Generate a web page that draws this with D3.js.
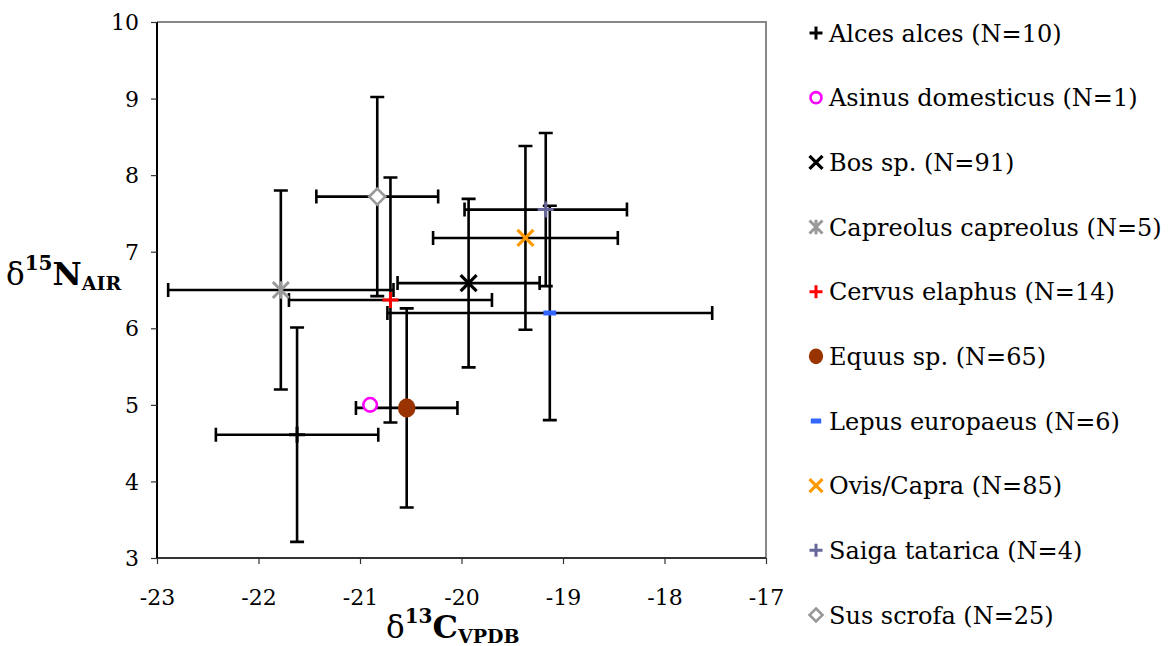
<!DOCTYPE html>
<html lang="en">
<head>
    <meta charset="utf-8">
    <title>d13C vs d15N by taxon</title>
    <script src="https://cdn.jsdelivr.net/npm/d3@7"></script>
    <style type="text/css">
      body{ margin:0; background:#fff; }
      text{ font-family: "DejaVu Serif", Georgia, serif; }
      .tick text{ font-size:22px; fill:#000; }
    </style>
</head>
<body>
<script type="text/javascript">
    // data
    var taxa   = ["Alces alces", "Asinus domesticus", "Bos sp.", "Capreolus capreolus", "Cervus elaphus",
                  "Equus sp.", "Lepus europaeus", "Ovis/Capra", "Saiga tatarica", "Sus scrofa"];
    var counts = [10, 1, 91, 5, 14, 65, 6, 85, 4, 25];
    var d13C   = [-21.62, -20.90, -19.93, -21.78, -20.70, -20.54, -19.13, -19.37, -19.17, -20.83];
    var d15N   = [4.61, 5.00, 6.59, 6.50, 6.37, 4.96, 6.20, 7.18, 7.55, 7.72];
    var errC   = [0.80, 0, 0.70, 1.11, 1.00, 0.50, 1.60, 0.91, 0.80, 0.60];
    var errN   = [1.40, 0, 1.10, 1.30, 1.60, 1.30, 1.40, 1.20, 1.00, 1.30];
    var shapes = ["plus", "circle", "x", "star", "plus", "dot", "dash", "x", "plus", "diamond"];
    var colors = ["#000000", "#ff00ff", "#000000", "#999999", "#ff0000",
                  "#993300", "#3366ff", "#ff9900", "#666699", "#999999"];
    var xTicks = [-23, -22, -21, -20, -19, -18, -17];
    var yTicks = [3, 4, 5, 6, 7, 8, 9, 10];

    var data = taxa.map(function(t, i){
        return {name:t, n:counts[i], x:d13C[i], y:d15N[i], ex:errC[i], ey:errN[i], shape:shapes[i], color:colors[i]};
    });

    var W = 1170, H = 646;
    var pL = 157, pR = 766, pT = 22, pB = 558;

    var svg = d3.select("body").append("svg").attr("width", W).attr("height", H);

    var x = d3.scaleLinear().domain([-23, -17]).range([pL, pR]);
    var y = d3.scaleLinear().domain([3, 10]).range([pB, pT]);

    // frame: top and right in grey
    svg.append("path")
        .attr("d", "M" + pL + "," + pT + "H" + pR + "V" + pB)
        .attr("fill", "none").attr("stroke", "#888").attr("stroke-width", 2);

    // axes (plain hyphen for negatives, like the original)
    var fmt = function(d){ return String(d); };
    var xA = d3.axisBottom(x).tickValues(xTicks).tickSize(6).tickPadding(28).tickFormat(fmt);
    var gx = svg.append("g").attr("transform", "translate(0," + pB + ")").call(xA);
    var yA = d3.axisLeft(y).tickValues(yTicks).tickSize(6).tickPadding(12).tickFormat(fmt);
    var gy = svg.append("g").attr("transform", "translate(" + pL + ",0)").call(yA);
    gx.select(".domain").attr("stroke", "#333").attr("stroke-width", 2).attr("d", "M" + pL + ",0H" + pR);
    gy.select(".domain").attr("stroke", "#000").attr("stroke-width", 2).attr("d", "M0," + y(3) + "V" + y(10));
    svg.selectAll(".tick line").attr("stroke", "#333").attr("stroke-width", 1.2);
    gx.selectAll(".tick text").style("font-size", "22px").attr("dy", "0.6em");
    gy.selectAll(".tick text").style("font-size", "22px").attr("dy", "0.35em");

    // error bars
    var cap = 7;
    var eb = svg.append("g").attr("stroke", "#000").attr("stroke-width", 2.6).attr("fill", "none");
    data.filter(function(d){ return d.ex > 0 || d.ey > 0; }).forEach(function(d){
        var cx = x(d.x), cy = y(d.y);
        var x0 = x(d.x - d.ex), x1 = x(d.x + d.ex);
        var y0 = y(d.y - d.ey), y1 = y(d.y + d.ey);
        eb.append("path").attr("d",
            "M" + x0 + "," + cy + "H" + x1 +
            "M" + x0 + "," + (cy - cap) + "V" + (cy + cap) +
            "M" + x1 + "," + (cy - cap) + "V" + (cy + cap) +
            "M" + cx + "," + y0 + "V" + y1 +
            "M" + (cx - cap) + "," + y0 + "H" + (cx + cap) +
            "M" + (cx - cap) + "," + y1 + "H" + (cx + cap));
    });

    // marker drawing
    function marker(g, shape, color, s){
        var h = s / 2;
        if (shape === "plus"){
            g.append("path").attr("d", "M" + (-h) + ",0H" + h + "M0," + (-h) + "V" + h)
                .attr("stroke", color).attr("stroke-width", 3);
        } else if (shape === "x"){
            g.append("path").attr("d", "M" + (-h) + "," + (-h) + "L" + h + "," + h + "M" + (-h) + "," + h + "L" + h + "," + (-h))
                .attr("stroke", color).attr("stroke-width", 3.2);
        } else if (shape === "star"){
            g.append("path").attr("d", "M" + (-h) + "," + (-h) + "L" + h + "," + h + "M" + (-h) + "," + h + "L" + h + "," + (-h) +
                "M0," + (-h * 1.1) + "V" + (h * 1.1))
                .attr("stroke", color).attr("stroke-width", 3);
        } else if (shape === "circle"){
            g.append("circle").attr("r", h * 0.85).attr("fill", "#fff").attr("stroke", color).attr("stroke-width", 2.6);
        } else if (shape === "dot"){
            g.append("ellipse").attr("rx", h * 1.1).attr("ry", h * 1.2).attr("fill", color);
        } else if (shape === "dash"){
            g.append("rect").attr("x", -h * 0.8).attr("y", -2.5).attr("width", h * 1.6).attr("height", 5).attr("fill", color);
        } else if (shape === "diamond"){
            g.append("path").attr("d", "M0," + (-h) + "L" + h + ",0L0," + h + "L" + (-h) + ",0Z")
                .attr("fill", "#fff").attr("stroke", color).attr("stroke-width", 2.6);
        }
    }

    data.forEach(function(d){
        var g = svg.append("g").attr("transform", "translate(" + x(d.x) + "," + y(d.y) + ")");
        marker(g, d.shape, d.color, 16);
    });

    // legend
    var leg = d3.scaleLinear().domain([0, 9]).range([33, 615]);
    data.forEach(function(d, i){
        var g = svg.append("g").attr("transform", "translate(816," + leg(i) + ")");
        marker(g, d.shape, d.color, 13);
        g.append("text").attr("x", 13).attr("dy", "0.36em")
            .style("font-size", "24px").text(d.name + " (N=" + d.n + ")");
    });

    // axis titles
    var yl = svg.append("text").attr("x", 6).attr("y", 285).style("font-weight", "bold");
    yl.append("tspan").style("font-size", "31px").style("font-weight", "normal").text("δ");
    yl.append("tspan").attr("dy", -15).style("font-size", "20px").text("15");
    yl.append("tspan").attr("dy", 15).style("font-size", "32px").text("N");
    yl.append("tspan").attr("dy", 5).style("font-size", "19px").text("AIR");

    var xl = svg.append("text").attr("x", 386).attr("y", 638).style("font-weight", "bold");
    xl.append("tspan").style("font-size", "31px").style("font-weight", "normal").text("δ");
    xl.append("tspan").attr("dy", -15).style("font-size", "20px").text("13");
    xl.append("tspan").attr("dy", 15).style("font-size", "32px").text("C");
    xl.append("tspan").attr("dy", 5).style("font-size", "19px").text("VPDB");
</script>
</body>
</html>
